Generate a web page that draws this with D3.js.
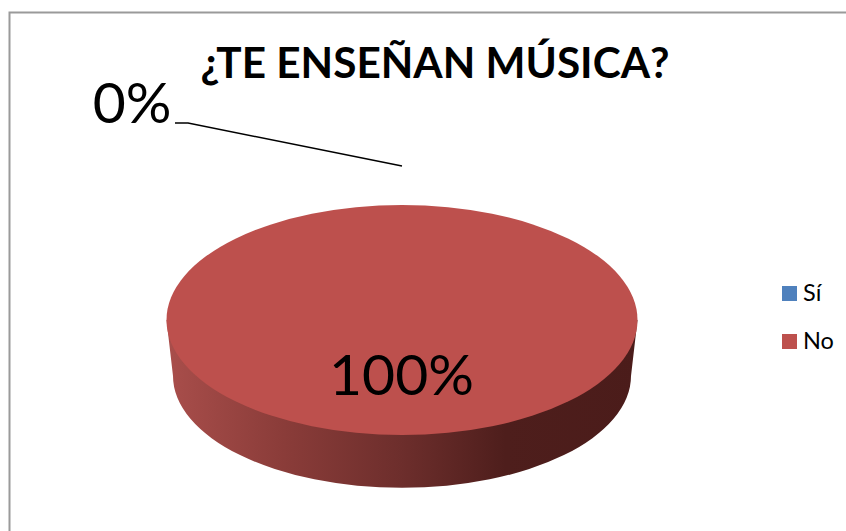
<!DOCTYPE html>
<html>
<head>
<meta charset="utf-8">
<script src="https://cdn.jsdelivr.net/npm/d3@7"></script>
<style>
  html, body { margin: 0; padding: 0; background: #fff; overflow: hidden; }
  text { font-family: Lato, "Open Sans", sans-serif; fill: #000; }
</style>
</head>
<body>
<div id="chart"></div>
<script>
const categories = ["Sí", "No"];
const values = [0, 100];
const percentLabels = ["0%", "100%"];
const sliceColors = ["#4f81bd", "#bd504d"];
const chartTitle = "¿TE ENSEÑAN MÚSICA?";

const width = 846, height = 531;
const cx = 402, cy = 320, rx = 235.5, ry = 115, depth = 56;
const bottomRx = 229;
const squash = ry / rx;

const svg = d3.select("#chart").append("svg")
    .attr("width", width)
    .attr("height", height);

// frame, only left and top edges are in the crop
svg.append("path")
    .attr("d", "M9.5," + height + "V12.5H" + width)
    .attr("fill", "none")
    .attr("stroke", "#9a9a9a")
    .attr("stroke-width", 2);

svg.append("text")
    .attr("x", 435)
    .attr("y", 78)
    .attr("text-anchor", "middle")
    .style("font-size", "42.3px")
    .style("font-weight", "bold")
    .text(chartTitle);

// side shading of the disc
const grad = svg.append("defs").append("linearGradient")
    .attr("id", "side")
    .attr("x1", 0).attr("x2", 1).attr("y1", 0).attr("y2", 0);
[["0%", "#a94e4b"], ["25%", "#8a3c39"], ["50%", "#6d2e2c"], ["72%", "#4e1e1c"], ["100%", "#4b1c1a"]]
    .forEach(s => grad.append("stop").attr("offset", s[0]).attr("stop-color", s[1]));

const pie = d3.pie().sort(null).startAngle(Math.PI).endAngle(3 * Math.PI);
const arcs = pie(values);
const arc = d3.arc().innerRadius(0).outerRadius(rx);

const disc = svg.append("g")
    .attr("transform", "translate(" + cx + "," + cy + ") scale(1," + squash + ")");

// bottom rim is a bit narrower than the top face
const d = depth / squash;
const side = d3.path();
side.moveTo(-rx, 0);
side.lineTo(-bottomRx, d);
side.arc(0, d, bottomRx, Math.PI, 0, true);
side.lineTo(rx, 0);
side.closePath();
disc.append("path").attr("d", side.toString()).attr("fill", "url(#side)");

disc.selectAll("path.slice")
    .data(arcs)
    .enter().append("path")
    .attr("class", "slice")
    .attr("d", arc)
    .attr("fill", (s, i) => sliceColors[i]);

// leader line for the empty slice
svg.append("path")
    .attr("d", d3.line()([[175, 123], [188, 123], [402, 166]]))
    .attr("fill", "none")
    .attr("stroke", "#000")
    .attr("stroke-width", 1.4);

svg.append("text")
    .attr("x", 132)
    .attr("y", 123)
    .attr("text-anchor", "middle")
    .style("font-size", "57px")
    .text(percentLabels[0]);

svg.append("text")
    .attr("x", 401.5)
    .attr("y", 395)
    .attr("text-anchor", "middle")
    .style("font-size", "57px")
    .text(percentLabels[1]);

// legend
const legendY = d3.scalePoint().domain(categories).range([286, 334]);
const legend = svg.selectAll("g.legend")
    .data(categories)
    .enter().append("g")
    .attr("class", "legend")
    .attr("transform", c => "translate(782," + legendY(c) + ")");
legend.append("rect")
    .attr("width", 15)
    .attr("height", 15)
    .attr("fill", (c, i) => sliceColors[i]);
legend.append("text")
    .attr("x", 21)
    .attr("y", 14.5)
    .style("font-size", "23.5px")
    .text(c => c);
</script>
</body>
</html>
